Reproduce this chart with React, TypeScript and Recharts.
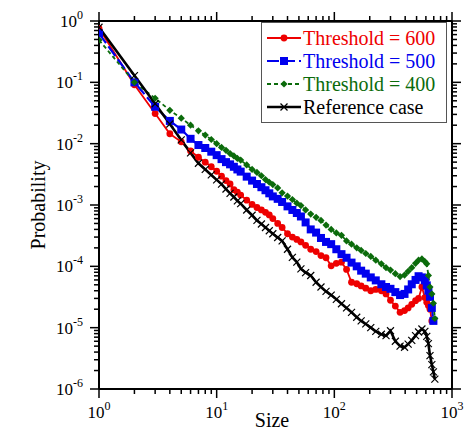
import React from "react";
import { LineChart, Line, XAxis, YAxis } from "recharts";

const sizes = [1,2,3,4,5,6,7,8,9,10, 11,12,13,14,15,16,18,20,22,24, 26,28,30,33,36,40,44,48,52,57, 63,70,77,85,94,104,115,127,140,155, 169,185,204,225,251,275,300,330,362,395, 424,455,490,520,555,588,610,630,650,674, 695,715];

const thr600 = [0.76,9.1e-2,3.1e-2,1.45e-2,1.07e-2,7.6e-3,6.0e-3,5.0e-3,4.2e-3,3.55e-3,
2.95e-3,2.5e-3,2.2e-3,1.78e-3,1.62e-3,1.45e-3,1.2e-3,1.02e-3,9.1e-4,8.3e-4,
7.6e-4,6.9e-4,6.0e-4,5.0e-4,4.3e-4,3.4e-4,3.0e-4,2.75e-4,2.5e-4,2.2e-4,
1.9e-4,1.74e-4,1.5e-4,1.38e-4,1.02e-4,1.12e-4,1.17e-4,8.9e-5,5.5e-5,5.2e-5,
4.8e-5,4.4e-5,4.0e-5,4.2e-5,4.0e-5,3.55e-5,2.8e-5,2.25e-5,1.78e-5,1.9e-5,
2.1e-5,2.4e-5,2.75e-5,3.0e-5,4.6e-5,3.1e-5,2.6e-5,2.3e-5,2.0e-5,1.29e-5,
null,null];

const thr500 = [0.63,0.10,4.0e-2,2.35e-2,1.7e-2,1.2e-2,9.5e-3,8.5e-3,7.4e-3,6.5e-3,
5.6e-3,5.0e-3,4.6e-3,4.2e-3,3.8e-3,3.5e-3,2.9e-3,2.5e-3,2.2e-3,1.95e-3,
1.74e-3,1.55e-3,1.38e-3,1.26e-3,1.12e-3,9.5e-4,8.3e-4,7.4e-4,6.5e-4,5.2e-4,
4.0e-4,3.55e-4,2.9e-4,2.5e-4,2.3e-4,1.9e-4,1.58e-4,1.38e-4,1.15e-4,1.0e-4,
8.5e-5,7.6e-5,6.6e-5,5.9e-5,5.1e-5,4.6e-5,4.3e-5,3.8e-5,3.4e-5,3.55e-5,
4.2e-5,5.1e-5,6.0e-5,6.9e-5,6.6e-5,5.9e-5,4.9e-5,4.0e-5,3.2e-5,2.1e-5,
1.29e-5,null];

const thr400 = [0.49,0.10,5.5e-2,3.5e-2,2.6e-2,2.0e-2,1.62e-2,1.38e-2,1.17e-2,1.0e-2,
8.7e-3,7.8e-3,6.9e-3,6.3e-3,5.75e-3,5.4e-3,4.5e-3,3.8e-3,3.4e-3,3.0e-3,
2.6e-3,2.35e-3,2.15e-3,1.9e-3,1.58e-3,1.4e-3,1.23e-3,1.07e-3,9.8e-4,8.3e-4,
7.1e-4,6.3e-4,5.6e-4,4.7e-4,4.0e-4,3.5e-4,3.2e-4,2.6e-4,2.3e-4,2.0e-4,
1.82e-4,1.62e-4,1.45e-4,1.26e-4,1.1e-4,9.5e-5,8.7e-5,7.6e-5,6.8e-5,7.2e-5,
8.3e-5,9.5e-5,1.12e-4,1.26e-4,1.32e-4,1.2e-4,1.1e-4,7.1e-5,4.6e-5,3.55e-5,
2.5e-5,1.41e-5];

const reference = [0.79,0.129,4.47e-2,2.09e-2,1.15e-2,7.08e-3,4.79e-3,3.8e-3,3.09e-3,2.57e-3,
2.19e-3,1.82e-3,1.55e-3,1.35e-3,1.17e-3,1.05e-3,8.3e-4,6.8e-4,5.6e-4,4.9e-4,
4.3e-4,3.8e-4,3.4e-4,2.95e-4,2.6e-4,1.9e-4,1.4e-4,1.17e-4,9.1e-5,7.9e-5,
7.1e-5,5.5e-5,4.6e-5,3.9e-5,3.4e-5,2.9e-5,2.45e-5,2.1e-5,1.78e-5,1.48e-5,
1.29e-5,1.15e-5,1.0e-5,8.7e-6,7.8e-6,7.4e-6,8.9e-6,6.0e-6,5.0e-6,4.8e-6,
5.4e-6,6.2e-6,7.4e-6,8.5e-6,9.5e-6,8.7e-6,7.2e-6,5.5e-6,3.5e-6,2.5e-6,
1.9e-6,1.45e-6];

const xTicks = [1,2,3,4,5,6,7,8,9,10,20,30,40,50,60,70,80,90,100,200,300,400,500,600,700,800,900,1000];
const yTicks = [
  1e-6,2e-6,3e-6,4e-6,5e-6,6e-6,7e-6,8e-6,9e-6,
  1e-5,2e-5,3e-5,4e-5,5e-5,6e-5,7e-5,8e-5,9e-5,
  1e-4,2e-4,3e-4,4e-4,5e-4,6e-4,7e-4,8e-4,9e-4,
  1e-3,2e-3,3e-3,4e-3,5e-3,6e-3,7e-3,8e-3,9e-3,
  1e-2,2e-2,3e-2,4e-2,5e-2,6e-2,7e-2,8e-2,9e-2,
  1e-1,2e-1,3e-1,4e-1,5e-1,6e-1,7e-1,8e-1,9e-1,1,
];

const seriesNames = ["Threshold = 600", "Threshold = 500", "Threshold = 400", "Reference case"];
const seriesKeys = ["t600", "t500", "t400", "ref"];
const seriesColors = ["#ee0000", "#0000ee", "#0b6b0b", "#000000"];

const rows = sizes.map((s, i) => ({
  s,
  t600: thr600[i],
  t500: thr500[i],
  t400: thr400[i],
  ref: reference[i],
}));

const FONT = "Liberation Serif, Times New Roman, serif";

function expOf(v: number) {
  const l = Math.log10(v);
  const r = Math.round(l);
  return Math.abs(l - r) < 1e-6 ? r : null;
}

function BottomTick(props: any) {
  const { x, y, payload } = props;
  const e = expOf(payload.value);
  const major = e !== null;
  return (
    <g>
      <line x1={x} x2={x} y1={y} y2={y + (major ? 9 : 5)} stroke="#000" strokeWidth={1.5} />
      {major && (
        <text x={x} y={y + 29} textAnchor="middle" fontFamily={FONT} fontSize={17} fill="#000">
          10<tspan dy={-8} fontSize={12}>{String(e)}</tspan>
        </text>
      )}
    </g>
  );
}

function TopTick(props: any) {
  const { x, y, payload } = props;
  const major = expOf(payload.value) !== null;
  return <line x1={x} x2={x} y1={y} y2={y - (major ? 9 : 5)} stroke="#000" strokeWidth={1.5} />;
}

function LeftTick(props: any) {
  const { x, y, payload } = props;
  const e = expOf(payload.value);
  const major = e !== null;
  return (
    <g>
      <line x1={x} x2={x - (major ? 9 : 5)} y1={y} y2={y} stroke="#000" strokeWidth={1.5} />
      {major && (
        <text x={x - 16} y={y + 6} textAnchor="end" fontFamily={FONT} fontSize={17} fill="#000">
          10<tspan dy={-8} fontSize={12}>{String(e)}</tspan>
        </text>
      )}
    </g>
  );
}

function RightTick(props: any) {
  const { x, y, payload } = props;
  const major = expOf(payload.value) !== null;
  return <line x1={x} x2={x + (major ? 9 : 5)} y1={y} y2={y} stroke="#000" strokeWidth={1.5} />;
}

function Marker({ kind, cx, cy, color }: { kind: number; cx: number; cy: number; color: string }) {
  if (cx == null || cy == null || isNaN(cx) || isNaN(cy)) return <g />;
  if (kind === 0) return <circle cx={cx} cy={cy} r={3.4} fill={color} />;
  if (kind === 1) return <rect x={cx - 4} y={cy - 4} width={8} height={8} fill={color} />;
  if (kind === 2)
    return (
      <polygon
        points={`${cx},${cy - 3.6} ${cx + 3.6},${cy} ${cx},${cy + 3.6} ${cx - 3.6},${cy}`}
        fill={color}
      />
    );
  return (
    <g stroke={color} strokeWidth={1.2}>
      <line x1={cx - 3.5} y1={cy - 3.5} x2={cx + 3.5} y2={cy + 3.5} />
      <line x1={cx - 3.5} y1={cy + 3.5} x2={cx + 3.5} y2={cy - 3.5} />
    </g>
  );
}

const lineStyles = [
  { width: 1.8, dash: undefined as string | undefined },
  { width: 2.2, dash: "12 4" },
  { width: 1.8, dash: "4 3" },
  { width: 2.6, dash: undefined as string | undefined },
];

function Legend() {
  return (
    <div
      style={{
        position: "absolute",
        left: 261,
        top: 22,
        width: 184,
        height: 99,
        border: "1px solid #555",
        background: "#fff",
        boxSizing: "content-box",
      }}
    >
      {seriesNames.map((n, i) => {
        const cy = 15 + i * 23;
        return (
          <div key={n} style={{ position: "absolute", left: 0, top: cy - 12, height: 24, width: 184 }}>
            <svg width={42} height={24} style={{ position: "absolute", left: 0, top: 0 }}>
              <line
                x1={5}
                x2={39}
                y1={12}
                y2={12}
                stroke={seriesColors[i]}
                strokeWidth={lineStyles[i].width}
                strokeDasharray={lineStyles[i].dash}
              />
              <Marker kind={i} cx={22} cy={12} color={seriesColors[i]} />
            </svg>
            <div
              style={{
                position: "absolute",
                left: 41,
                top: 0,
                height: 24,
                lineHeight: "24px",
                fontFamily: FONT,
                fontSize: 20,
                color: seriesColors[i],
                whiteSpace: "nowrap",
              }}
            >
              {n}
            </div>
          </div>
        );
      })}
    </div>
  );
}

export default function App() {
  return (
    <div style={{ position: "absolute", left: 0, top: 0, width: 467, height: 439, background: "#fff", fontFamily: FONT }}>
      <LineChart width={467} height={439} data={rows} margin={{ top: 20, right: 0, bottom: 0, left: 39 }}>
        <XAxis
          xAxisId="b"
          dataKey="s"
          type="number"
          scale="log"
          domain={[1, 1000]}
          allowDataOverflow
          ticks={xTicks}
          interval={0}
          height={50}
          tickSize={0}
          tickMargin={0}
          tickLine={false}
          tick={<BottomTick />}
          axisLine={{ stroke: "#000", strokeWidth: 2 }}
        />
        <XAxis
          xAxisId="t"
          orientation="top"
          dataKey="s"
          type="number"
          scale="log"
          domain={[1, 1000]}
          allowDataOverflow
          ticks={xTicks}
          interval={0}
          height={1}
          tickSize={0}
          tickMargin={0}
          tickLine={false}
          tick={<TopTick />}
          axisLine={{ stroke: "#000", strokeWidth: 2 }}
        />
        <YAxis
          yAxisId="l"
          type="number"
          scale="log"
          domain={[1e-6, 1]}
          allowDataOverflow
          ticks={yTicks}
          interval={0}
          width={60}
          tickSize={0}
          tickMargin={0}
          tickLine={false}
          tick={<LeftTick />}
          axisLine={{ stroke: "#000", strokeWidth: 2 }}
        />
        <YAxis
          yAxisId="r"
          orientation="right"
          type="number"
          scale="log"
          domain={[1e-6, 1]}
          allowDataOverflow
          ticks={yTicks}
          interval={0}
          width={15}
          tickSize={0}
          tickMargin={0}
          tickLine={false}
          tick={<RightTick />}
          axisLine={{ stroke: "#000", strokeWidth: 2 }}
        />
        {seriesKeys.map((k, i) => (
          <Line
            key={k}
            xAxisId="b"
            yAxisId="l"
            dataKey={k}
            type="linear"
            stroke={seriesColors[i]}
            strokeWidth={lineStyles[i].width}
            strokeDasharray={lineStyles[i].dash}
            isAnimationActive={false}
            connectNulls={false}
            dot={(p: any) => <Marker key={`${k}-${p.index}`} kind={i} cx={p.cx} cy={p.cy} color={seriesColors[i]} />}
            activeDot={false}
          />
        ))}
      </LineChart>
      <div
        style={{
          position: "absolute",
          left: 252,
          top: 410,
          width: 40,
          textAlign: "center",
          fontFamily: FONT,
          fontSize: 20,
          lineHeight: "20px",
          color: "#000",
        }}
      >
        Size
      </div>
      <div
        style={{
          position: "absolute",
          left: 38,
          top: 205,
          transform: "translate(-50%, -50%) rotate(-90deg)",
          fontFamily: FONT,
          fontSize: 20,
          lineHeight: "20px",
          whiteSpace: "nowrap",
          color: "#000",
        }}
      >
        Probability
      </div>
      <Legend />
    </div>
  );
}
